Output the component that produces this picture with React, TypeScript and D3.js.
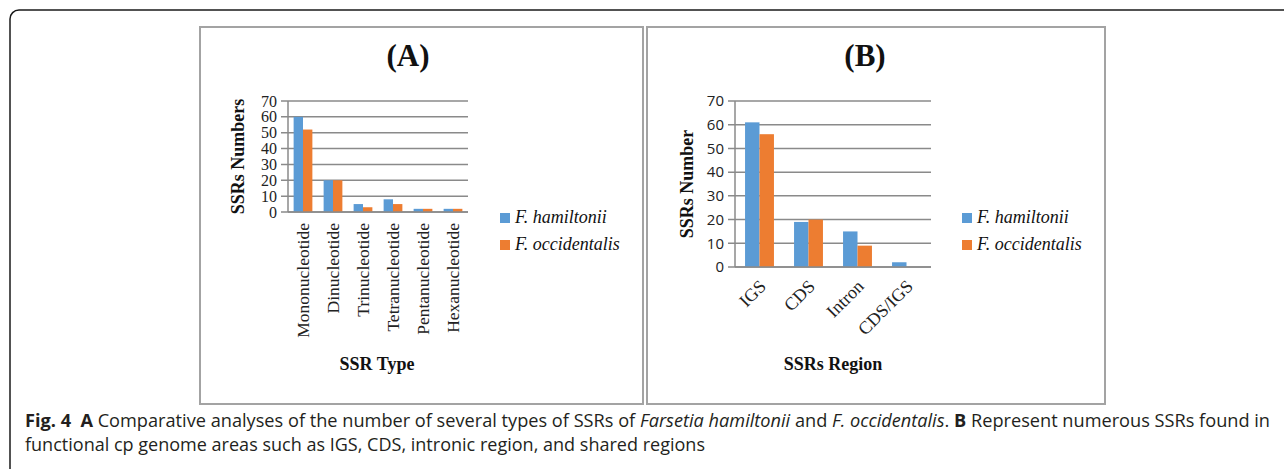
import React from "react";
import * as d3 from "d3";

// Panel A: SSR types
const typeCategories = [
  "Mononucleotide",
  "Dinucleotide",
  "Trinucleotide",
  "Tetranucleotide",
  "Pentanucleotide",
  "Hexanucleotide",
];
const typeHamiltonii = [60, 20, 5, 8, 2, 2];
const typeOccidentalis = [52, 20, 3, 5, 2, 2];

// Panel B: SSR regions
const regionCategories = ["IGS", "CDS", "Intron", "CDS/IGS"];
const regionHamiltonii = [61, 19, 15, 2];
const regionOccidentalis = [56, 20, 9, 0];

const yTicks = [0, 10, 20, 30, 40, 50, 60, 70];
const seriesNames = ["F. hamiltonii", "F. occidentalis"];
const seriesColors = ["#5B9BD5", "#ED7D31"];

const SERIF = "'Liberation Serif', 'Times New Roman', serif";
const SANS = "'Open Sans', 'Noto Sans', sans-serif";

type PanelProps = {
  box: { x: number; y: number; w: number; h: number };
  title: string;
  titleX: number;
  categories: string[];
  values: number[][];
  plot: { left: number; right: number; top: number; bottom: number };
  padding: number;
  yTitle: string;
  yTitleX: number;
  xTitle: string;
  xTitleX: number;
  tickFont: string;
  tickSize: number;
  labelMode: "vertical" | "diagonal";
  legendX: number;
};

function Panel(p: PanelProps) {
  const y = d3.scaleLinear().domain([0, 70]).range([p.plot.bottom, p.plot.top]);
  const x0 = d3
    .scaleBand<string>()
    .domain(p.categories)
    .range([p.plot.left, p.plot.right])
    .paddingInner(p.padding)
    .paddingOuter(p.padding / 2);
  const x1 = d3
    .scaleBand<string>()
    .domain(seriesNames)
    .range([0, x0.bandwidth()]);

  return (
    <g>
      <rect
        x={p.box.x}
        y={p.box.y}
        width={p.box.w}
        height={p.box.h}
        fill="#fff"
        stroke="#a3a3a3"
        strokeWidth={2}
      />
      <text
        x={p.titleX}
        y={66}
        textAnchor="middle"
        fontFamily={SERIF}
        fontWeight="bold"
        fontSize={31}
        fill="#111"
      >
        {p.title}
      </text>

      {/* gridlines with short outside ticks */}
      {yTicks.map((t) => (
        <g key={t}>
          <line
            x1={p.plot.left - 7}
            x2={p.plot.right}
            y1={y(t)}
            y2={y(t)}
            stroke="#8a8a8a"
            strokeWidth={1.5}
          />
          <text
            x={p.plot.left - 11}
            y={y(t)}
            dy="0.35em"
            textAnchor="end"
            fontFamily={p.tickFont}
            fontSize={p.tickSize}
            fill="#222"
          >
            {t}
          </text>
        </g>
      ))}
      <line
        x1={p.plot.left}
        x2={p.plot.left}
        y1={y(70)}
        y2={y(0)}
        stroke="#8a8a8a"
        strokeWidth={1.5}
      />

      {/* bars */}
      {p.categories.map((c, i) => (
        <g key={c} transform={`translate(${x0(c)},0)`}>
          {seriesNames.map((s, k) => {
            const v = p.values[k][i];
            if (v <= 0) return null;
            return (
              <rect
                key={s}
                x={x1(s)}
                y={y(v)}
                width={x1.bandwidth()}
                height={y(0) - y(v)}
                fill={seriesColors[k]}
              />
            );
          })}
        </g>
      ))}
      <line
        x1={p.plot.left}
        x2={p.plot.right}
        y1={y(0)}
        y2={y(0)}
        stroke="#8a8a8a"
        strokeWidth={1.5}
      />

      {/* category labels */}
      {p.categories.map((c) => {
        const cx = (x0(c) ?? 0) + x0.bandwidth() / 2;
        if (p.labelMode === "vertical") {
          return (
            <text
              key={c}
              transform={`translate(${cx},${y(0) + 11}) rotate(-90)`}
              dy="0.35em"
              textAnchor="end"
              fontFamily={SERIF}
              fontSize={17.5}
              fill="#222"
            >
              {c}
            </text>
          );
        }
        return (
          <text
            key={c}
            transform={`translate(${cx + 3},${y(0) + 16}) rotate(-45)`}
            dy="0.35em"
            textAnchor="end"
            fontFamily={SERIF}
            fontSize={18}
            fill="#222"
          >
            {c}
          </text>
        );
      })}

      {/* axis titles */}
      <text
        transform={`translate(${p.yTitleX},${(y(0) + y(70)) / 2}) rotate(-90)`}
        dy="0.35em"
        textAnchor="middle"
        fontFamily={SERIF}
        fontWeight="bold"
        fontSize={18}
        fill="#111"
      >
        {p.yTitle}
      </text>
      <text
        x={p.xTitleX}
        y={370}
        textAnchor="middle"
        fontFamily={SERIF}
        fontWeight="bold"
        fontSize={18}
        fill="#111"
      >
        {p.xTitle}
      </text>

      {/* legend */}
      {seriesNames.map((s, k) => (
        <g key={s} transform={`translate(${p.legendX},${213 + k * 27})`}>
          <rect width={10} height={10} fill={seriesColors[k]} />
          <text
            x={15}
            y={10}
            fontFamily={SERIF}
            fontStyle="italic"
            fontSize={18}
            fill="#111"
          >
            {s}
          </text>
        </g>
      ))}
    </g>
  );
}

export default function App() {
  return (
    <svg
      width={1284}
      height={469}
      style={{ position: "absolute", left: 0, top: 0, background: "#fff" }}
    >
      <rect width={1284} height={469} fill="#fff" />
      {/* outer figure frame */}
      <path
        d="M10,480 L10,19 A9,9 0 0 1 19,10 L1290,10"
        fill="none"
        stroke="#1a1a1a"
        strokeWidth={1.5}
      />

      <Panel
        box={{ x: 200, y: 27, w: 443, h: 377 }}
        title="(A)"
        titleX={408}
        categories={typeCategories}
        values={[typeHamiltonii, typeOccidentalis]}
        plot={{ left: 288, right: 468, top: 101, bottom: 212 }}
        padding={0.375}
        yTitle="SSRs Numbers"
        yTitleX={238}
        xTitle="SSR Type"
        xTitleX={377}
        tickFont={SERIF}
        tickSize={16}
        labelMode="vertical"
        legendX={500}
      />
      <Panel
        box={{ x: 647, y: 27, w: 458, h: 377 }}
        title="(B)"
        titleX={865}
        categories={regionCategories}
        values={[regionHamiltonii, regionOccidentalis]}
        plot={{ left: 735, right: 931, top: 101, bottom: 267 }}
        padding={0.41}
        yTitle="SSRs Number"
        yTitleX={687}
        xTitle="SSRs Region"
        xTitleX={833}
        tickFont={SANS}
        tickSize={15}
        labelMode="diagonal"
        legendX={962}
      />

      {/* caption */}
      <text
        x={25}
        y={427}
        fontFamily={SANS}
        fontSize={17.5}
        fill="#231f20"
        textLength={1245}
        lengthAdjust="spacingAndGlyphs"
        style={{ whiteSpace: "pre" }}
      >
        <tspan fontWeight="bold">Fig. 4</tspan>
        <tspan fontWeight="bold" dx={9}>A</tspan>
        <tspan> Comparative analyses of the number of several types of SSRs of </tspan>
        <tspan fontStyle="italic">Farsetia hamiltonii</tspan>
        <tspan> and </tspan>
        <tspan fontStyle="italic">F. occidentalis</tspan>
        <tspan>. </tspan>
        <tspan fontWeight="bold">B</tspan>
        <tspan> Represent numerous SSRs found in</tspan>
      </text>
      <text
        x={25}
        y={451}
        fontFamily={SANS}
        fontSize={17.5}
        fill="#231f20"
        textLength={680}
        lengthAdjust="spacingAndGlyphs"
      >
        functional cp genome areas such as IGS, CDS, intronic region, and shared regions
      </text>
    </svg>
  );
}
